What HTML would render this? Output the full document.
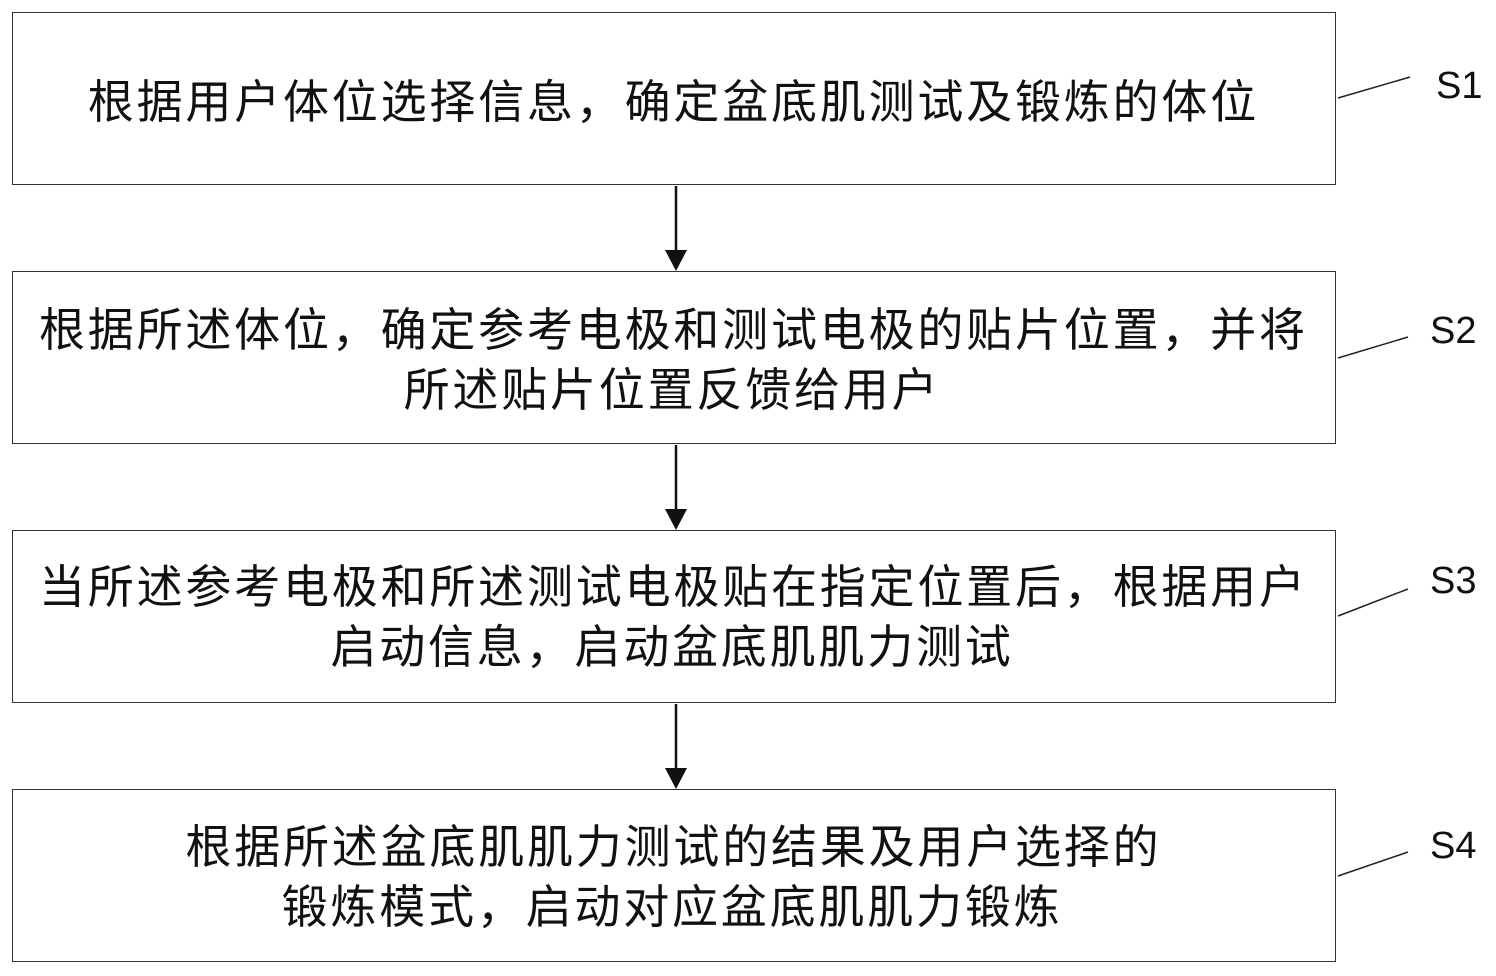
<!DOCTYPE html>
<html><head><meta charset="utf-8"><style>
html,body{margin:0;padding:0;background:#fff;}
body{width:1496px;height:976px;position:relative;overflow:hidden;font-family:"Liberation Sans","Noto Sans CJK SC",sans-serif;}
.box{position:absolute;left:12px;width:1322px;height:171px;border:1.5px solid #333;box-sizing:content-box;}
.t{position:absolute;left:10px;width:1324px;text-align:center;font-size:46px;letter-spacing:2.8px;text-indent:2.8px;line-height:60px;color:#111;white-space:nowrap;font-family:"Noto Sans CJK SC",sans-serif;}
.lab{position:absolute;font-size:38px;color:#111;font-family:"Liberation Sans",sans-serif;}
</style></head><body>
<div class="box" style="top:12px"></div>
<div class="box" style="top:271px"></div>
<div class="box" style="top:530px"></div>
<div class="box" style="top:789px"></div>

<div class="t" style="top:69px">根据用户体位选择信息，确定盆底肌测试及锻炼的体位</div>
<div class="t" style="top:297px">根据所述体位，确定参考电极和测试电极的贴片位置，并将<br>所述贴片位置反馈给用户</div>
<div class="t" style="top:554px">当所述参考电极和所述测试电极贴在指定位置后，根据用户<br>启动信息，启动盆底肌肌力测试</div>
<div class="t" style="top:814px">根据所述盆底肌肌力测试的结果及用户选择的<br>锻炼模式，启动对应盆底肌肌力锻炼</div>

<div class="lab" style="left:1436px;top:65px">S1</div>
<div class="lab" style="left:1430px;top:310px">S2</div>
<div class="lab" style="left:1430px;top:560px">S3</div>
<div class="lab" style="left:1430px;top:825px">S4</div>

<svg width="1496" height="976" style="position:absolute;left:0;top:0">
<g stroke="#111" stroke-width="2.5" fill="#111">
<line x1="676" y1="186" x2="676" y2="252"/><polygon points="665,250 687,250 676,271" stroke="none"/>
<line x1="676" y1="445" x2="676" y2="511"/><polygon points="665,509 687,509 676,530" stroke="none"/>
<line x1="676" y1="704" x2="676" y2="770"/><polygon points="665,768 687,768 676,789" stroke="none"/>
</g>
<g stroke="#222" stroke-width="1.5">
<line x1="1338" y1="98" x2="1410" y2="77"/>
<line x1="1338" y1="358" x2="1408" y2="337"/>
<line x1="1338" y1="616" x2="1408" y2="589"/>
<line x1="1338" y1="876" x2="1408" y2="852"/>
</g>
</svg>
</body></html>
